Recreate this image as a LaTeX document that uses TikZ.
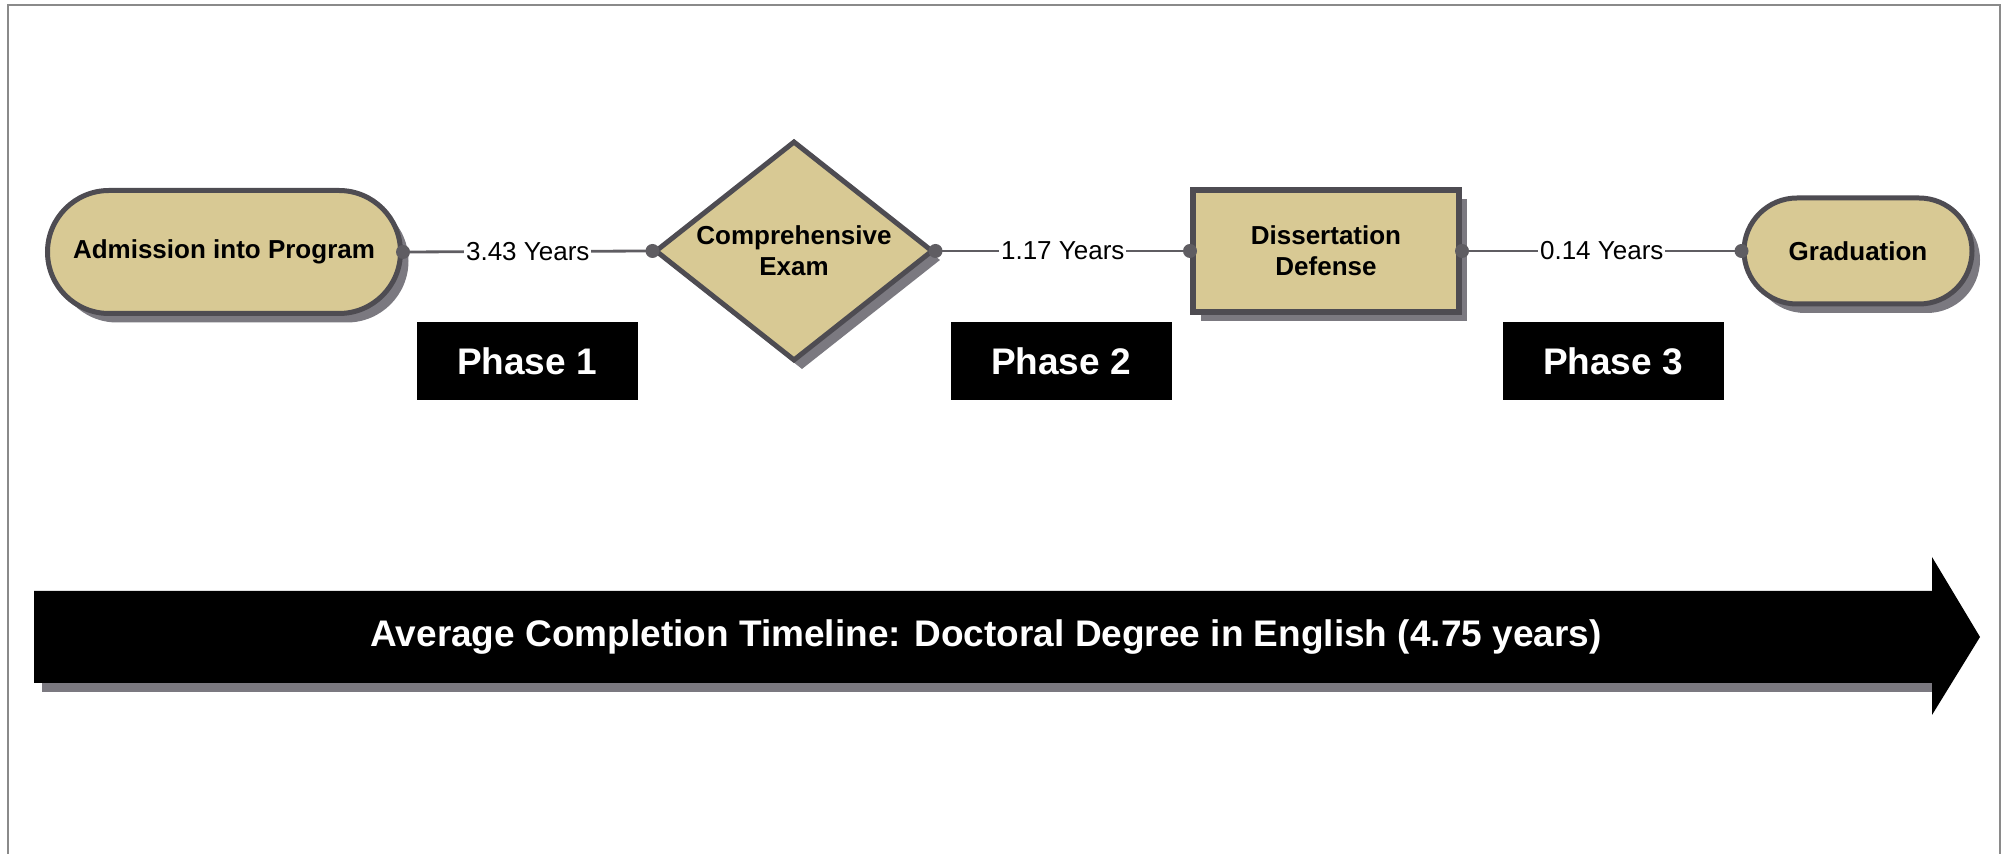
\documentclass[tikz,border=0pt]{standalone}
\usepackage{fontspec}
\setmainfont{Liberation Sans}
\usetikzlibrary{shapes.geometric,shadows}
\definecolor{tanfill}{HTML}{D8C994}
\definecolor{outline}{HTML}{4E4C52}
\definecolor{shadowgray}{HTML}{7B7980}
\definecolor{linegray}{HTML}{5F5D62}
\definecolor{bordergray}{HTML}{8A8A8A}
\begin{document}
\begin{tikzpicture}[x=0.5pt,y=-0.5pt,
  shd/.style={drop shadow={shadow xshift=4pt,shadow yshift=-4.5pt,fill=shadowgray,opacity=1}},
  nodetext/.style={font=\bfseries\fontsize{13}{15.5}\selectfont,align=center,inner sep=0pt},
  stadium/.style={nodetext,draw=outline,line width=2.5pt,fill=tanfill,shd},
  decision/.style={nodetext,diamond,aspect=1.27,draw=outline,line width=2.5pt,fill=tanfill,shd,minimum width=139pt,minimum height=110pt},
  process/.style={nodetext,rectangle,draw=outline,line width=3pt,fill=tanfill,shd,minimum width=133pt,minimum height=61pt},
  conn/.style={linegray,line width=1.4pt},
  dur/.style={font=\fontsize{13}{15.5}\selectfont,fill=white,inner xsep=0.8pt,inner ysep=2pt,text=black},
  phasebox/.style={fill=black,text=white,font=\bfseries\fontsize{18.5}{22}\selectfont,minimum width=110.5pt,minimum height=39pt,inner sep=0pt},
  dot/.style={fill=linegray}
]
\useasboundingbox (0,0) rectangle (2004,854);
% frame
\draw[bordergray,line width=1pt] (8,870) -- (8,5) -- (2000,5) -- (2000,870);

% nodes
\node[stadium,rounded corners=30.75pt,minimum width=176.5pt,minimum height=61.5pt] (adm) at (224,252) {Admission into Program};
\node[decision] (comp) at (794,251) {Comprehensive\\Exam};
\node[process] (diss) at (1326,251) {Dissertation\\Defense};
\node[stadium,rounded corners=26.5pt,minimum width=114pt,minimum height=53pt] (grad) at (1858,251) {Graduation};

% connectors
\draw[conn] (adm.east) -- node[dur] (d1) {3.43 Years} (comp.west);
\draw[conn] (comp.east) -- node[dur] (d2) {1.17 Years} (diss.west);
\draw[conn] (diss.east) -- node[dur] (d3) {0.14 Years} (grad.west);
\foreach \p in {adm.east,comp.west,comp.east,diss.west,diss.east,grad.west}
  \fill[dot] (\p) circle (3.5pt);

% phase labels
\node[phasebox] (p1) at (527,361) {Phase 1};
\node[phasebox] (p2) at (1061,361) {Phase 2};
\node[phasebox] (p3) at (1613,361) {Phase 3};

% timeline arrow
\fill[shadowgray] (42,600) rectangle (1932,692);
\fill[black] (34,591) -- (1932,591) -- (1932,557) -- (1980,637) -- (1932,715) -- (1932,683) -- (34,683) -- cycle;
\node[text=white,font=\bfseries\fontsize{18.5}{22}\selectfont] (tl) at (986,637) {Average Completion Timeline: Doctoral Degree in English (4.75 years)};
\end{tikzpicture}
\end{document}
